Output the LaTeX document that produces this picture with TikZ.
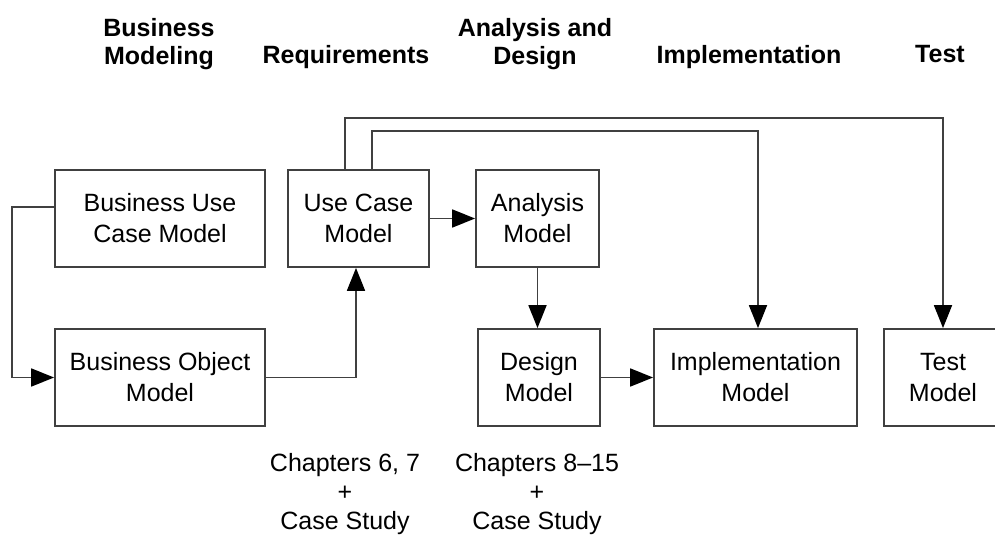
\documentclass[tikz,border=0pt]{standalone}
\usepackage{fontspec}
\setmainfont{Liberation Sans}
\usetikzlibrary{arrows.meta,positioning}

\begin{document}
\begin{tikzpicture}[
		x=1pt, y=-1pt,
		every node/.style={
			font=\fontsize{25}{31}\selectfont,
			align=center,
		},
		model/.style={
			draw=black!75,
			line width=1.8pt,
			minimum height=97pt,
			inner sep=0pt,
		},
		phase/.style={
			font=\fontsize{25}{28}\selectfont\bfseries,
			anchor=north,
			inner sep=0pt,
		},
		chapters/.style={
			font=\fontsize{25}{29}\selectfont,
			anchor=north,
			inner sep=0pt,
		},
		flow/.style={
			draw=black!75,
			line width=1.8pt,
			-{Triangle[length=23pt,width=18pt,color=black]},
		},
	]
	\useasboundingbox (0,0) rectangle (995,537);

	% workflow headings
	\node[phase] (hbm) at (159,18) {Business\\Modeling};
	\node[phase] (hreq) at (346,45) {Requirements};
	\node[phase] (had) at (535,18) {Analysis and\\Design};
	\node[phase] (himpl) at (749,45) {Implementation};
	\node[phase] (htest) at (940,45) {Test};

	% models
	\node[model, minimum width=210pt] (bucm) at (160,218.5) {Business Use\\Case Model};
	\node[model, minimum width=141pt] (ucm) at (358.5,218.5) {Use Case\\Model};
	\node[model, minimum width=123pt] (am) at (537.5,218.5) {Analysis\\Model};
	\node[model, minimum width=210pt] (bom) at (160,377.5) {Business Object\\Model};
	\node[model, minimum width=122pt] (dm) at (539,377.5) {Design\\Model};
	\node[model, minimum width=203pt] (im) at (755.5,377.5) {Implementation\\Model};
	\node[model, minimum width=118pt] (tm) at (943,377.5) {Test\\Model};

	% chapter notes
	\node[chapters] (ch67) at (345,453) {Chapters 6, 7\\+\\Case Study};
	\node[chapters] (ch815) at (537,453) {Chapters 8--15\\+\\Case Study};

	% connectors
	\draw[flow] ([yshift=11.5pt]bucm.west) -- ++(-42,0) |- (bom.west);
	\draw[flow] (bom.east) -| ([xshift=-2.5pt]ucm.south);
	\draw[flow] (ucm.east) -- (am.west);
	\draw[flow] (am.south) -- (am.south |- dm.north);
	\draw[flow] (dm.east) -- (im.west);
	\draw[flow] ([xshift=-13.5pt]ucm.north) -- ++(0,-51) -| (tm.north);
	\draw[flow] ([xshift=13.5pt]ucm.north) -- ++(0,-38) -| ([xshift=2.5pt]im.north);
\end{tikzpicture}
\end{document}
